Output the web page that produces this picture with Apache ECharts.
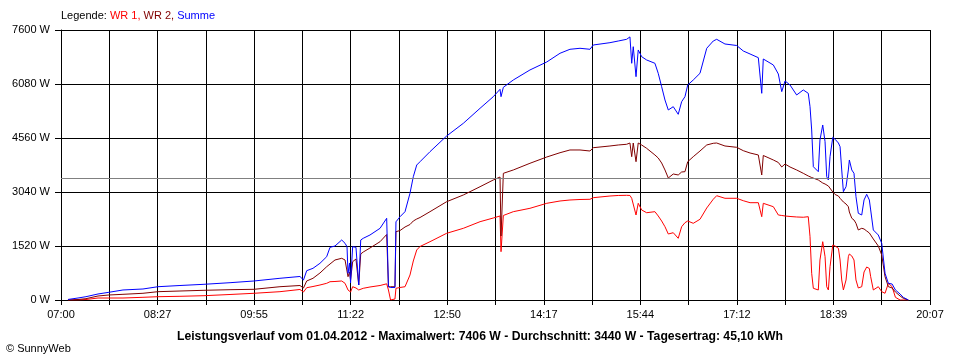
<!DOCTYPE html>
<html><head><meta charset="utf-8">
<script src="https://cdn.jsdelivr.net/npm/echarts@6/dist/echarts.min.js"></script>
<style>html,body{margin:0;padding:0;background:#fff}#c{width:960px;height:360px}</style>
</head><body><div id="c"></div>
<script>
// minutes after 07:00
const minutesAfter7 = [
 6.3, 15.4, 22.6, 33.5, 43.4, 56.1, 74.2, 87.8, 107.7, 129.4,
 153, 174.7, 198.2, 216.3, 219.5, 222.4, 228.1, 234.4, 240.5, 243.5,
 248, 254.1, 257.1, 258.9, 259.8, 261.2, 262.1, 264, 267, 268.8,
 269.5, 270.7, 271.3, 273.6, 279.7, 288.8, 294.8, 296.4, 298.3, 302.3,
 303.2, 306.9, 311.4, 315.9, 318.9, 322, 325, 334, 349.1, 364.2,
 379.3, 391.3, 397.4, 398.3, 400.4, 409.4, 424.5, 439.7, 451.7, 460.7,
 469.8, 478.8, 481.8, 496.9, 504.4, 512, 515, 516.6, 518, 520.5,
 522.5, 525.6, 530.1, 537.6, 540.6, 543.7, 546.7, 549.7, 554.2, 558.7,
 561.8, 564.8, 567.3, 572.3, 578.4, 584.5, 590.4, 593.5, 601, 611.6,
 617.6, 623.7, 631.2, 634.3, 635.7, 644.8, 649.3, 652.4, 655.4, 659.9,
 665.9, 671.9, 676.4, 678, 679.5, 681, 685.5, 687, 689.5, 691.6,
 693.1, 694.6, 696.1, 698.6, 700.7, 703.7, 705.2, 706.7, 708.2, 710.6,
 712.7, 713.6, 715.8, 717.8, 719.6, 721.7, 724.8, 726.9, 729.3, 731.7,
 732.9, 735.3, 739.8, 742.9, 745.9, 748.9, 752.3, 755.3, 759.5, 762.4,
 767
];
const summe = [
 15, 56, 93, 169, 217, 282, 310, 374, 408, 442,
 487, 535, 611, 662, 563, 825, 892, 1033, 1219, 1483,
 1520, 1689, 1596, 1500, 752, 1042, 479, 1500, 1483, 1464,
 422, 422, 1689, 1737, 1830, 2018, 2300, 374, 352, 352,
 2200, 2345, 2486, 3004, 3471, 3800, 3893, 4175, 4617, 4974,
 5396, 5723, 5931, 5723, 5987, 6193, 6475, 6700, 6945, 7057,
 7085, 7057, 7178, 7243, 7290, 7338, 7406, 6663, 7130, 6286,
 7038, 6849, 6756, 6663, 6381, 6004, 5630, 5349, 5441, 5227,
 5582, 5723, 6052, 6193, 6381, 7085, 7290, 7338, 7206, 7164,
 7009, 6925, 6821, 5818, 6784, 6615, 6362, 5865, 6165, 6052,
 5771, 5912, 5818, 5441, 4786, 3752, 3612, 4504, 4926, 4456,
 3471, 3378, 4034, 4580, 4524, 4419, 4315, 3660, 3049, 3189,
 3660, 3941, 3660, 3566, 2908, 2441, 2393, 2815, 2975, 2815,
 2534, 1971, 1830, 1596, 752, 470, 450, 282, 169, 76,
 0
];
const wr2 = [
 0, 14, 37, 113, 141, 160, 189, 234, 253, 273,
 290, 301, 374, 408, 338, 535, 611, 760, 937, 1013,
 1126, 1174, 1126, 1070, 656, 788, 563, 1078, 1154, 1182,
 422, 422, 1295, 1351, 1464, 1641, 1844, 374, 374, 374,
 1923, 1956, 2055, 2125, 2224, 2280, 2322, 2486, 2767, 2956,
 3189, 3378, 3462, 1801, 3566, 3660, 3848, 4025, 4146, 4223,
 4223, 4194, 4287, 4335, 4363, 4383, 4419, 4034, 4419, 3893,
 4419, 4363, 4270, 4082, 3997, 3856, 3660, 3434, 3547, 3519,
 3603, 3612, 3893, 4034, 4194, 4363, 4411, 4419, 4335, 4298,
 4203, 4138, 4082, 3519, 4068, 3941, 3871, 3744, 3828, 3744,
 3660, 3566, 3491, 3462, 3448, 3426, 3378, 3350, 3293, 3265,
 3237, 3209, 3153, 3040, 2970, 2927, 2863, 2815, 2759, 2702,
 2626, 2477, 2300, 2252, 2159, 1971, 2018, 1999, 1942, 1886,
 1830, 1717, 1520, 1267, 656, 376, 338, 225, 113, 48,
 0
];
const wr1 = [
 0, 0, 14, 56, 56, 56, 76, 93, 104, 121,
 155, 189, 234, 296, 225, 346, 380, 422, 470, 515,
 521, 535, 470, 422, 282, 282, 225, 374, 338, 282,
 282, 282, 329, 329, 366, 408, 456, 282, 0, 28,
 329, 352, 374, 704, 1098, 1408, 1506, 1641, 1878, 2018,
 2204, 2308, 2365, 1360, 2379, 2486, 2581, 2722, 2787, 2815,
 2829, 2835, 2880, 2927, 2942, 2947, 2942, 2863, 2815, 2393,
 2722, 2534, 2457, 2486, 2365, 2224, 2063, 1858, 1894, 1737,
 2063, 2176, 2224, 2159, 2272, 2590, 2835, 2936, 2863, 2863,
 2795, 2739, 2739, 2345, 2722, 2626, 2393, 2379, 2365, 2351,
 2337, 2329, 2345, 1782, 752, 329, 282, 1126, 1641, 1219,
 374, 282, 937, 1548, 1520, 1455, 1126, 563, 282, 563,
 1219, 1295, 1239, 1126, 563, 338, 374, 788, 929, 887,
 656, 282, 374, 234, 189, 470, 374, 76, 0, 0,
 0
];
const xTickLabels = ['07:00','08:27','09:55','11:22','12:50','14:17','15:44','17:12','18:39','20:07'];
const average = 3440;
const titleText = 'Leistungsverlauf vom 01.04.2012 - Maximalwert: 7406 W - Durchschnitt: 3440 W - Tagesertrag: 45,10 kWh';

const slot = 43.7;      // minutes per grid column
const xMax = 786.6;     // 18 columns
const font = 'Liberation Sans';
const pairs = arr => minutesAfter7.map((m, i) => [m, arr[i]]);

const chart = echarts.init(document.getElementById('c'), null, {renderer: 'canvas'});
chart.setOption({
  animation: false,
  backgroundColor: '#ffffff',
  grid: {left: 61, right: 30, top: 30, bottom: 60},
  xAxis: {
    type: 'value', min: 0, max: xMax, interval: slot,
    axisLine: {show: true, lineStyle: {color: '#000', width: 1}},
    axisTick: {show: true, length: 5, lineStyle: {color: '#000'}},
    splitLine: {show: true, lineStyle: {color: '#000', width: 1}},
    axisLabel: {
      color: '#000', fontFamily: font, fontSize: 11, margin: 9,
      formatter: v => { const i = Math.round(v / slot); return i % 2 === 0 ? xTickLabels[i / 2] : ''; }
    }
  },
  yAxis: {
    type: 'value', min: 0, max: 7600, interval: 1520,
    axisLine: {show: true, lineStyle: {color: '#000', width: 1}},
    axisTick: {show: true, length: 6, lineStyle: {color: '#000'}},
    splitLine: {show: true, lineStyle: {color: '#000', width: 1}},
    axisLabel: {color: '#000', fontFamily: font, fontSize: 11, margin: 11, formatter: v => String(Math.round(v)) + ' W'}
  },
  series: [
    {name: 'WR 1', type: 'line', data: pairs(wr1), showSymbol: false, lineStyle: {color: '#ff0000', width: 1}, itemStyle: {color: '#ff0000'}},
    {name: 'WR 2', type: 'line', data: pairs(wr2), showSymbol: false, lineStyle: {color: '#800000', width: 1}, itemStyle: {color: '#800000'}},
    {name: 'Summe', type: 'line', data: pairs(summe), showSymbol: false, lineStyle: {color: '#0000ff', width: 1}, itemStyle: {color: '#0000ff'},
     markLine: {silent: true, symbol: 'none', label: {show: false}, lineStyle: {color: '#808080', type: 'solid', width: 1}, data: [{yAxis: average}]}}
  ],
  graphic: [
    {type: 'text', left: 61, top: 10, style: {
      text: '{k|Legende: }{a|WR 1, }{b|WR 2, }{c|Summe}',
      rich: {
        k: {fill: '#000', fontFamily: font, fontSize: 11},
        a: {fill: '#ff0000', fontFamily: font, fontSize: 11},
        b: {fill: '#800000', fontFamily: font, fontSize: 11},
        c: {fill: '#0000ff', fontFamily: font, fontSize: 11}
      }}},
    {type: 'text', x: 480, y: 337, style: {text: titleText, fill: '#000', fontFamily: font, fontSize: 12.2, fontWeight: 'bold', align: 'center', verticalAlign: 'middle'}},
    {type: 'text', x: 6, y: 349, style: {text: '© SunnyWeb', fill: '#000', fontFamily: font, fontSize: 11, align: 'left', verticalAlign: 'middle'}}
  ]
});
</script></body></html>
